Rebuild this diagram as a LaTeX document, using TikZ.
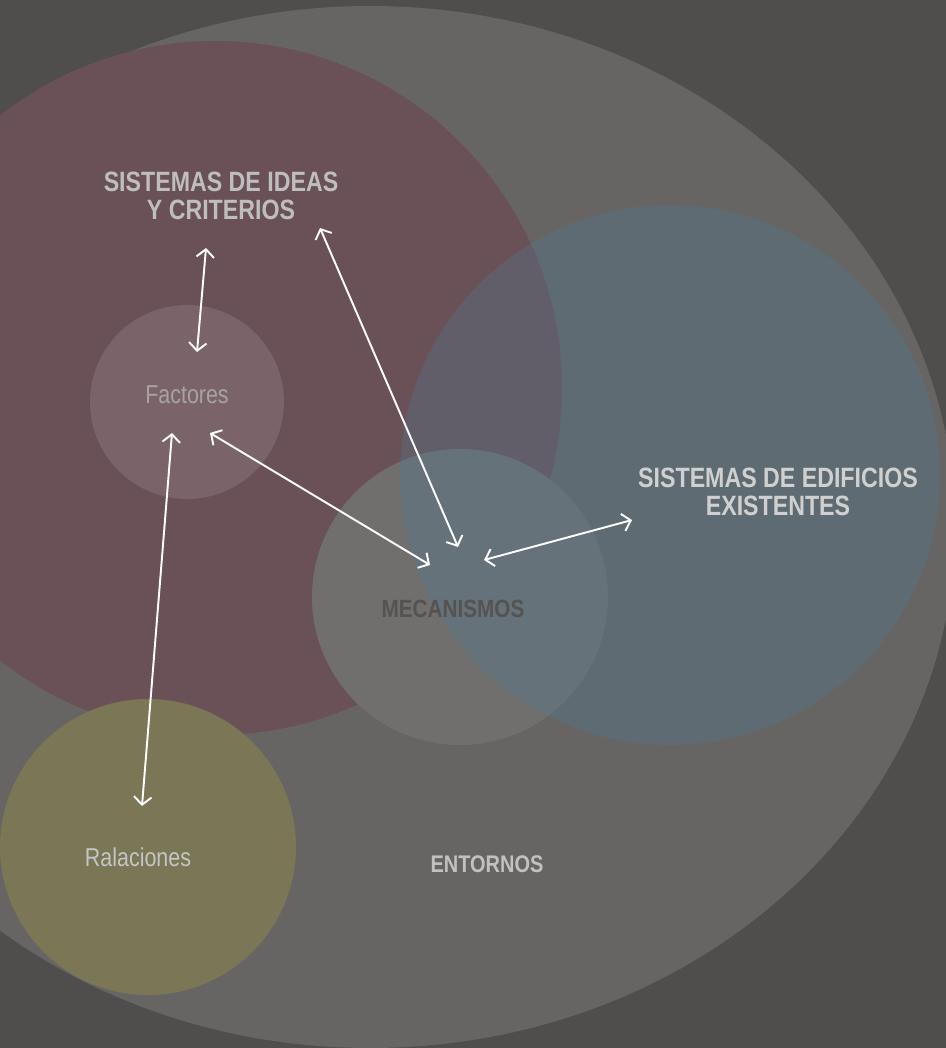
\documentclass[tikz,border=0pt]{standalone}
\usepackage{xcolor}
\usepackage{fontspec}
\setmainfont{Liberation Sans}[FakeStretch=0.83]
\usetikzlibrary{arrows.meta}

\definecolor{fondo}{HTML}{4F4E4C}
\definecolor{entornos}{HTML}{666563}
\definecolor{ideas}{HTML}{695157}
\definecolor{edificios}{RGB}{79,121,149}
\definecolor{factores}{HTML}{7A6469}
\definecolor{mecanismos}{HTML}{706F6D}
\definecolor{relaciones}{HTML}{7A7656}
\definecolor{textoideas}{HTML}{BEBEBE}
\definecolor{textoedif}{HTML}{D0D0D0}
\definecolor{textosuave}{HTML}{A9A2A4}
\definecolor{textomec}{HTML}{545352}

\tikzset{
  titulo/.style={font=\bfseries\fontsize{15.9}{15.9}\selectfont, align=center, inner sep=0pt},
  etiqueta/.style={font=\fontsize{14.7}{16}\selectfont, inner sep=0pt, anchor=base},
  flecha/.style={<->, draw=white, line width=1.1pt}
}

\begin{document}
\begin{tikzpicture}[x=0.02cm, y=-0.02cm, >={Straight Barb[length=4.5pt,width=10pt]}]
  % Background
  \useasboundingbox (0,0) rectangle (946,1048);
  \clip (0,0) rectangle (946,1048);
  \fill [fondo] (0,0) rectangle (946,1048);

  % Define sets
  \fill [entornos] (370,527) ellipse [x radius=585, y radius=521];
  \fill [ideas] (215,388) circle [radius=347];
  \fill [factores] (187,402) circle [radius=97];
  \fill [mecanismos] (460,597) circle [radius=148];
  \fill [edificios, opacity=0.3] (670,475) circle [radius=270];
  \fill [relaciones] (148,847) circle [radius=148];

  % Labels
  \node [titulo, text=textoideas] (ideas) at (221,196) {SISTEMAS DE IDEAS\\Y CRITERIOS};
  \node [titulo, text=textoedif] (edificios) at (778,492) {SISTEMAS DE EDIFICIOS\\EXISTENTES};
  \node [etiqueta, text=textosuave] (factores) at (187,403) {Factores};
  \node [etiqueta, text=textoideas!90] (relaciones) at (138,866) {Ralaciones};
  \node [etiqueta, font=\bfseries\fontsize{14.2}{16}\selectfont, text=textomec] (mecanismos) at (453,617) {MECANISMOS};
  \node [etiqueta, font=\bfseries\fontsize{13.7}{16}\selectfont, text=textoideas!95] (entornos) at (487,872) {ENTORNOS};

  % Arrow ends
  \coordinate (ideasA) at (206,248);
  \coordinate (factA) at (197,352);
  \coordinate (ideasB) at (320,228);
  \coordinate (mecA) at (458,547);
  \coordinate (factB) at (210,433);
  \coordinate (mecB) at (430,565);
  \coordinate (factC) at (172,433);
  \coordinate (relA) at (142,806);
  \coordinate (mecC) at (484,560);
  \coordinate (edifA) at (632,520);

  % Connect sets with double arrows
  \draw [flecha] (ideasA) -- (factA);
  \draw [flecha] (ideasB) -- (mecA);
  \draw [flecha] (factB) -- (mecB);
  \draw [flecha] (factC) -- (relA);
  \draw [flecha] (mecC) -- (edifA);
\end{tikzpicture}
\end{document}
